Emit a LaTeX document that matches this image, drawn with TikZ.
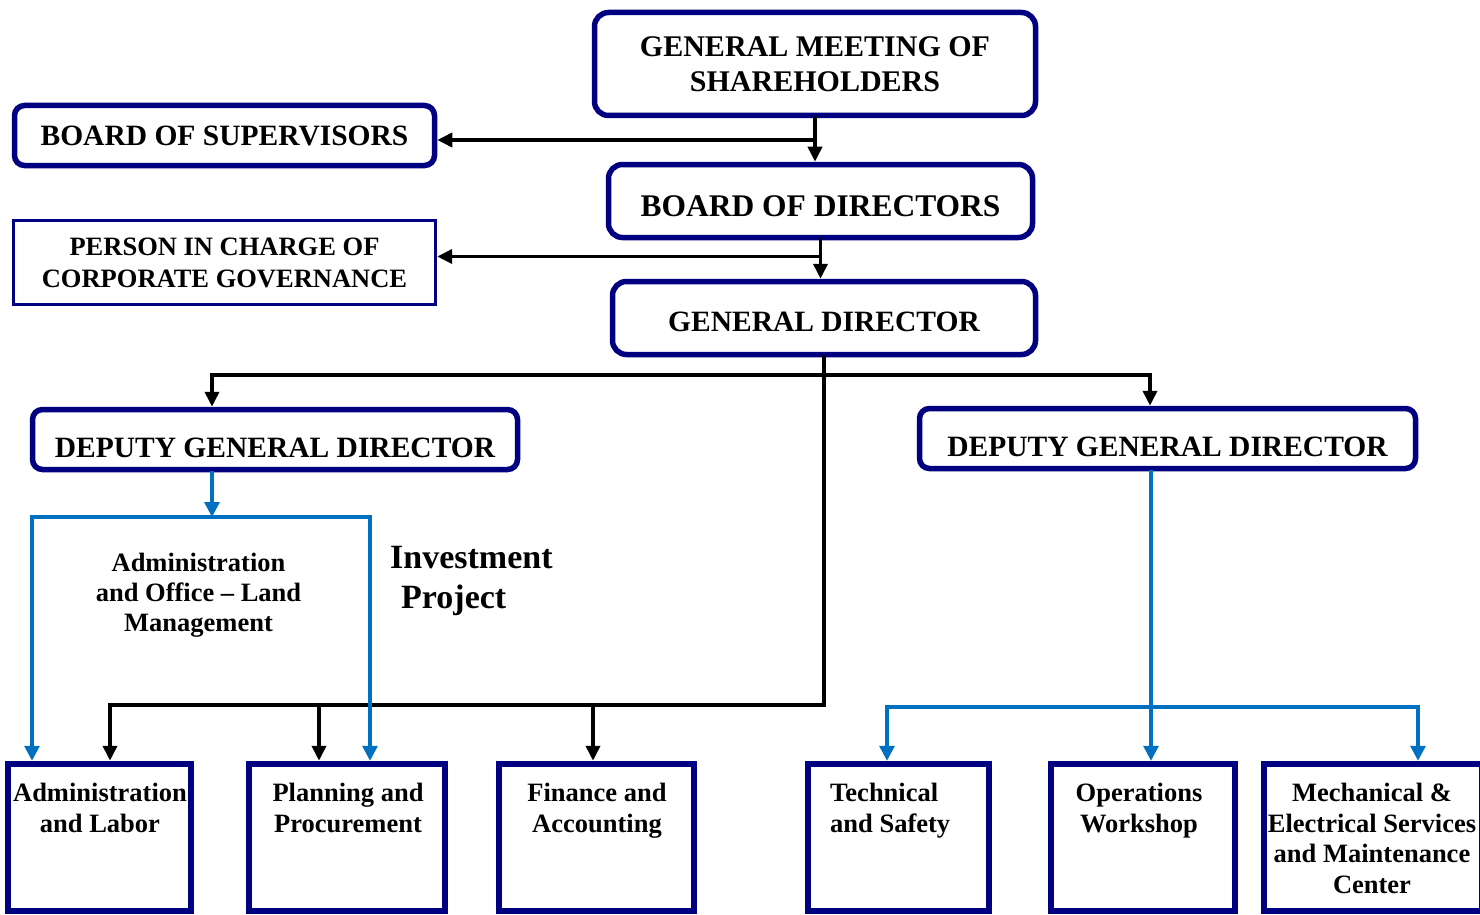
\documentclass[tikz,border=0pt]{standalone}
\usepackage{fontspec}
\setmainfont{Liberation Serif}
\usetikzlibrary{arrows.meta}
\definecolor{navy}{RGB}{0,0,128}
\definecolor{linkblue}{RGB}{0,112,192}
\newcommand{\fsz}[2]{\fontsize{#1}{#2}\selectfont\bfseries}

\begin{document}
\begin{tikzpicture}[x=1pt,y=-1pt,
  rbox/.style={draw=navy, line width=5.5pt, rounded corners=14pt, fill=white, inner sep=0pt, align=center},
  sbox/.style={draw=navy, line width=3.4pt, fill=white, inner sep=0pt, align=center},
  unitbox/.style={draw=navy, line width=6.5pt, fill=white, inner sep=0pt, minimum height=147pt},
  unittext/.style={inner sep=0pt, anchor=north, align=center, font=\fsz{26.5}{30.5}},
  blk/.style={draw=black, line width=3.6pt, line cap=rect},
  blkarr/.style={blk, -{Triangle[length=15pt,width=14pt]}},
  blu/.style={draw=linkblue, line width=3.3pt, line cap=rect},
  bluarr/.style={blu, -{Triangle[length=15pt,width=15pt]}},
]
\useasboundingbox (0,0) rectangle (1480,915);

% ---- governing bodies ----
\node[rbox, minimum width=441pt, minimum height=103pt, font=\fsz{30}{35}] (gms) at (815,64)
  {GENERAL MEETING OF\\SHAREHOLDERS};
\node[rbox, rounded corners=10pt, minimum width=420pt, minimum height=60pt, font=\fsz{29.5}{34}] (bos) at (224.5,135.5)
  {BOARD OF SUPERVISORS};
\node[rbox, minimum width=424pt, minimum height=73pt, font=\fsz{31.5}{36}, text height=30pt, text depth=0pt] (bod) at (820.5,201)
  {BOARD OF DIRECTORS};
\node[sbox, minimum width=422pt, minimum height=84pt, font=\fsz{26.5}{32}] (pic) at (224.5,262.5)
  {PERSON IN CHARGE OF\\CORPORATE GOVERNANCE};
\node[rbox, minimum width=423pt, minimum height=73pt, font=\fsz{29.5}{34}, text height=27.5pt, text depth=0pt] (gd) at (824,318)
  {GENERAL DIRECTOR};
\node[rbox, rounded corners=10pt, minimum width=485pt, minimum height=60pt, font=\fsz{29.5}{34}, text height=35pt, text depth=0pt] (dgl) at (275,439.5)
  {DEPUTY GENERAL DIRECTOR};
\node[rbox, rounded corners=10pt, minimum width=496pt, minimum height=60pt, font=\fsz{29.5}{34}, text height=36pt, text depth=0pt] (dgr) at (1167.5,438.5)
  {DEPUTY GENERAL DIRECTOR};

% ---- departments ----
\node[unitbox, minimum width=183pt] (b1) at (99.5,837.5) {};
\node[unitbox, minimum width=196pt] (b2) at (347,837.5) {};
\node[unitbox, minimum width=195pt] (b3) at (596.5,837.5) {};
\node[unitbox, minimum width=181pt] (b4) at (898.5,837.5) {};
\node[unitbox, minimum width=184pt] (b5) at (1143,837.5) {};
\node[unitbox, minimum width=218pt] (b6) at (1373,837.5) {};

\node[unittext] (b1t) at (100,783) {Administration\\and Labor};
\node[unittext] (b2t) at (348,783) {Planning and\\Procurement};
\node[unittext] (b3t) at (597,783) {Finance and\\Accounting};
\node[unittext, anchor=north west, align=left] (b4t) at (830,783) {Technical\\and Safety};
\node[unittext] (b5t) at (1139,783) {Operations\\Workshop};
\node[unittext] (b6t) at (1372,783) {Mechanical \&\\Electrical Services\\and Maintenance\\Center};

% ---- free labels ----
\node[unittext, font=\fsz{26.5}{30}] (adm) at (198.5,553) {Administration\\and Office – Land\\Management};
\node[inner sep=0pt, anchor=north west, align=left, font=\fsz{34}{39.5}] (inv) at (390,546.5)
  {Investment\\\hspace*{11pt}Project};

% ---- upper chain ----
\draw[blkarr] (gms.south) -- (gms.south |- bod.north);
\coordinate (j1) at (815,140);
\draw[blkarr] (j1) -- (j1 -| bos.east);
\draw[blkarr] (bod.south) -- (bod.south |- gd.north);
\coordinate (j2) at (820,256.5);
\draw[blkarr] (j2) -- (j2 -| pic.east);

% ---- general director to deputies ----
\coordinate (tl) at (212,375);
\coordinate (tr) at (1150,375);
\draw[blk] (tl) -- (tr);
\draw[blkarr] (tl) -- (tl |- dgl.north);
\draw[blkarr] (tr) -- (tr |- dgr.north);

% ---- general director to departments ----
\coordinate (bl) at (110,705);
\coordinate (bm) at (319,705);
\coordinate (bn) at (593,705);
\draw[blk] (gd.south) |- (bl);
\draw[blkarr] (bl) -- (bl |- b1.north);
\draw[blkarr] (bm) -- (bm |- b2.north);
\draw[blkarr] (bn) -- (bn |- b3.north);

% ---- left deputy ----
\coordinate (ll) at (32,517);
\coordinate (lr) at (370,517);
\draw[bluarr] (tl |- dgl.south) -- (tl |- ll);
\draw[blu] (ll) -- (lr);
\draw[bluarr] (ll) -- (ll |- b1.north);
\draw[bluarr] (lr) -- (lr |- b2.north);

% ---- right deputy ----
\coordinate (rm) at (1151,707);
\coordinate (rl) at (887,707);
\coordinate (rr) at (1418,707);
\draw[bluarr] (rm |- dgr.south) -- (rm |- b5.north);
\draw[blu] (rl) -- (rr);
\draw[bluarr] (rl) -- (rl |- b4.north);
\draw[bluarr] (rr) -- (rr |- b6.north);
\end{tikzpicture}
\end{document}
